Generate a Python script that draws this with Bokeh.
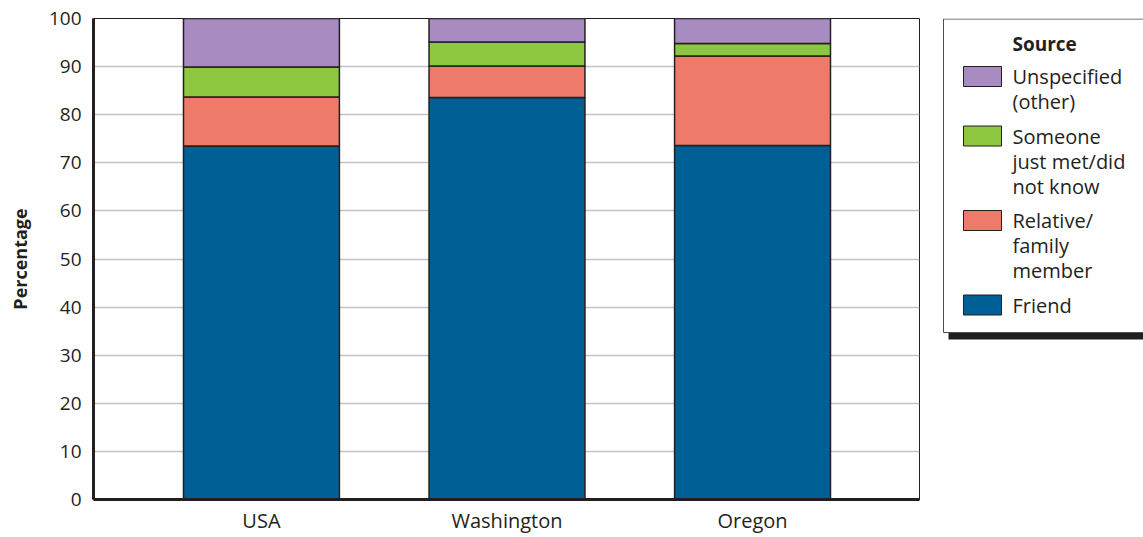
from bokeh.plotting import figure
from bokeh.models import Range1d, FixedTicker, ColumnDataSource
from bokeh.layouts import row
from bokeh.embed import file_html
from bokeh.resources import INLINE
from bokeh.core.properties import value

# Percentage of respondents by source, per region
regions = ["USA", "Washington", "Oregon"]
friend = [73.5, 83.6, 73.6]
relative = [10.2, 6.5, 18.6]
just_met = [6.2, 5.0, 2.6]
unspecified = [10.1, 4.9, 5.2]

# stacking order, bottom to top
series_keys = ["friend", "relative", "just_met", "unspecified"]
series_labels = ["Friend", "Relative/\nfamily\nmember", "Someone\njust met/did\nnot know", "Unspecified\n(other)"]
series_colors = ["#006096", "#ee7a6a", "#8dc63f", "#a78bc1"]
y_ticks = [0, 10, 20, 30, 40, 50, 60, 70, 80, 90, 100]

FONT = "Open Sans"
INK = "#231f20"
TOP, BOTTOM = 18, 38   # space above / below the plotting frame

xs = [i + 1 for i in range(len(regions))]
src = ColumnDataSource(dict(x=xs, friend=friend, relative=relative,
                            just_met=just_met, unspecified=unspecified))

p = figure(width=935, height=537, output_backend="svg", toolbar_location=None,
           title=None,
           x_range=Range1d(0.316, 3.68), y_range=Range1d(0, 100),
           min_border_left=93, min_border_right=16, min_border_top=TOP,
           min_border_bottom=BOTTOM)
p.background_fill_color = "white"
p.border_fill_color = "white"
p.outline_line_color = INK
p.outline_line_width = 1

p.vbar_stack(series_keys, x="x", width=0.635, source=src,
             fill_color=series_colors, line_color=INK, line_width=1.5)

p.xgrid.grid_line_color = None
p.ygrid.grid_line_color = "#c2c2c2"
p.ygrid.grid_line_width = 1.5
p.ygrid.ticker = FixedTicker(ticks=y_ticks)

p.yaxis.ticker = FixedTicker(ticks=y_ticks)
p.yaxis.axis_label = "Percentage"
p.yaxis.axis_label_text_font = FONT
p.yaxis.axis_label_text_font_style = "bold"
p.yaxis.axis_label_text_font_size = "18px"
p.yaxis.axis_label_text_color = INK
p.yaxis.axis_label_standoff = 14

p.xaxis.ticker = FixedTicker(ticks=xs)
p.xaxis.major_label_overrides = {x: r for x, r in zip(xs, regions)}
p.xaxis.axis_label = None

for ax in (p.xaxis, p.yaxis):
    ax.axis_line_color = INK
    ax.axis_line_width = 3
    ax.major_tick_line_color = None
    ax.minor_tick_line_color = None
    ax.major_label_text_font = FONT
    ax.major_label_text_color = INK
p.yaxis.major_label_text_font_size = "19px"
p.xaxis.major_label_text_font_size = "20px"
p.yaxis.major_label_standoff = 6
p.xaxis.major_label_standoff = 1

# Legend panel; its frame spans the same rows as the chart frame,
# so the y range is expressed in page pixels
frame_bottom = 537 - BOTTOM
lg = figure(width=208, height=537, output_backend="svg", toolbar_location=None,
            title=None, x_axis_type=None, y_axis_type=None,
            x_range=Range1d(0, 208), y_range=Range1d(frame_bottom, TOP),
            min_border_left=0, min_border_right=0,
            min_border_top=TOP, min_border_bottom=BOTTOM)
lg.grid.grid_line_color = None
lg.outline_line_color = None
lg.background_fill_color = "white"
lg.border_fill_color = "white"

# drop shadow, then the box
lg.quad(left=[13], right=[230], top=[24], bottom=[339], fill_color=INK, line_color=None)
lg.quad(left=[8], right=[225], top=[18.5], bottom=[332], fill_color="white",
        line_color="#4d4d4d", line_width=1)

lg.text(x=[77], y=[43], text=["Source"], text_font=value(FONT), text_font_style="bold",
        text_font_size="19px", text_baseline="middle", text_color=INK)

line_h = 25
gap = 34.5
y = 76.0
sw_l, sw_r, sw_top, sw_bot, sw_col = [], [], [], [], []
tx, ty, tt = [], [], []
for label, color in reversed(list(zip(series_labels, series_colors))):
    lines = label.split("\n")
    sw_l.append(28); sw_r.append(66)
    sw_top.append(y - 10); sw_bot.append(y + 10); sw_col.append(color)
    for i, ln in enumerate(lines):
        tx.append(77); ty.append(y + line_h * i); tt.append(ln)
    y += line_h * (len(lines) - 1) + gap

lg.quad(left=sw_l, right=sw_r, top=sw_top, bottom=sw_bot, fill_color=sw_col,
        line_color=INK, line_width=1)
lg.text(x=tx, y=ty, text=tt, text_font=value(FONT), text_font_size="20px",
        text_baseline="middle", text_color=INK)

layout = row(p, lg, spacing=0)
open("out.html", "w").write(file_html(layout, INLINE))
